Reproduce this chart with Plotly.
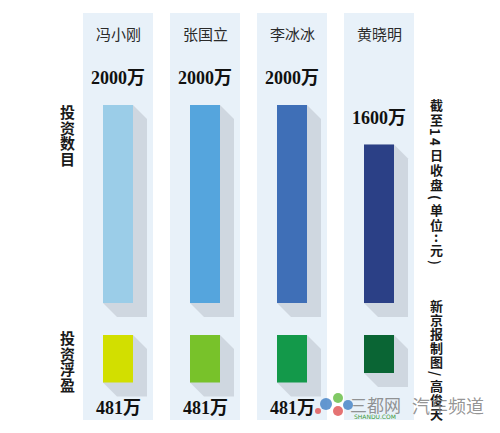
import plotly.graph_objects as go

# ---------------- data ----------------
names = ["冯小刚", "张国立", "李冰冰", "黄晓明"]
invest = [2000, 2000, 2000, 1600]          # 投资数目 (万)
gain = [481, 481, 481, 385]                # 投资浮盈 (万)
invest_labels = ["2000万", "2000万", "2000万", "1600万"]
gain_labels = ["481万", "481万", "481万", ""]
upper_colors = ["#9bcde8", "#55a5dd", "#3f6fb7", "#2b4086"]
lower_colors = ["#d2df00", "#78c22a", "#13994a", "#0a6534"]
left_titles = ["投资数目", "投资浮盈"]
note_text = "截至14日收盘(单位:元)"
credit_text = "新京报制图/高俊天"

# ---------------- geometry (pixels of a 500x433 canvas) ----------------
W, H = 500, 433
X0, XSTEP = 118, 87          # centre of first column, column pitch
YS = 0.099                   # pixels per 万
UP_BASE, LO_BASE = 303, 335  # pixel rows of the two baselines
BAR_W = 30 / XSTEP
BG_HALF = 35 / XSTEP
DX = 14 / XSTEP
DY = 14 / YS
SHADOW = "#cfd7e0"

xs = list(range(len(names)))
fig = go.Figure()


def py(p):
    return (H - p) / H


def path(xy):
    return "M " + " L ".join("%.4f,%.4f" % (a, b) for a, b in xy) + " Z"


shapes = []
for i in xs:
    shapes.append(dict(type="rect", xref="x", yref="paper", x0=i - BG_HALF, x1=i + BG_HALF,
                       y0=py(420), y1=py(13), fillcolor="#e8f1f9", line=dict(width=0), layer="below"))

# shadows (upper), drawn in data coordinates
for i, v in zip(xs, invest):
    c, w = i, BAR_W / 2
    pts = [(c - w, v), (c + w, v), (c + w + DX, v - DY), (c + w + DX, -DY), (c - w + DX, -DY), (c - w, 0)]
    shapes.append(dict(type="path", xref="x", yref="y", path=path(pts), fillcolor=SHADOW,
                       line=dict(width=0), layer="below"))
# shadows (lower)
for i, v in zip(xs, gain):
    c, w = i, BAR_W / 2
    pts = [(c - w, 0), (c + w, 0), (c + w + DX, DY), (c + w + DX, v + DY), (c - w + DX, v + DY), (c - w, v)]
    shapes.append(dict(type="path", xref="x", yref="y2", path=path(pts), fillcolor=SHADOW,
                       line=dict(width=0), layer="below"))

fig.add_trace(go.Bar(x=xs, y=invest, width=BAR_W, marker=dict(color=upper_colors, line=dict(width=0)),
                     showlegend=False, hoverinfo="skip", yaxis="y"))
fig.add_trace(go.Bar(x=xs, y=gain, width=BAR_W, marker=dict(color=lower_colors, line=dict(width=0)),
                     showlegend=False, hoverinfo="skip", yaxis="y2"))

ann = []
serif = "Liberation Serif, Noto Sans CJK SC"
sans = "Noto Sans CJK SC, sans-serif"
C = dict(showarrow=False, xanchor="center", yanchor="middle")
for i, n in zip(xs, names):
    ann.append(dict(x=i, y=py(33), xref="x", yref="paper", text=n,
                    font=dict(family=sans, size=15, color="#2a2a2a"), **C))
for i, v, t in zip(xs, invest, invest_labels):
    ann.append(dict(x=i, y=v, xref="x", yref="y", text="<b>%s</b>" % t,
                    yshift=27, font=dict(family=serif, size=18, color="#111"), **C))
for i, t in zip(xs, gain_labels):
    if t:
        ann.append(dict(x=i, y=py(408), xref="x", yref="paper", text="<b>%s</b>" % t,
                        font=dict(family=serif, size=18, color="#111"), **C))


def vertical(text, xpix, ytop, cjk_adv, other_adv, size, bold=True):
    y = ytop
    for ch in text:
        is_cjk = ord(ch) > 0x2E80
        adv = cjk_adv if is_cjk else other_adv
        ang = 0 if (is_cjk or ch == ":") else 90
        t = "<b>%s</b>" % ch if bold else ch
        ann.append(dict(x=xpix / W, y=py(y + adv / 2), xref="paper", yref="paper", text=t,
                        textangle=ang, font=dict(family=sans, size=size, color="#1a1a1a"), **C))
        y += adv


vertical(left_titles[0], 67, 104, 15.5, 15.5, 15)
vertical(left_titles[1], 67, 330, 15.5, 15.5, 15)
vertical(note_text, 436, 97, 15, 10, 13)
vertical(credit_text, 436, 298, 14, 10, 13)

# watermark
for (cx, cy, r, col) in [(326, 404, 6, "#4a86c8"), (338, 398, 5, "#6bbf4a"), (338, 411, 5, "#e05a5a"),
                         (348, 405, 5, "#4a86c8"), (318, 411, 3, "#e05a5a")]:
    shapes.append(dict(type="circle", xref="paper", yref="paper", x0=(cx - r) / W, x1=(cx + r) / W,
                       y0=py(cy + r), y1=py(cy - r), fillcolor=col, line=dict(width=0), opacity=0.85))
ann.append(dict(x=375 / W, y=py(404), xref="paper", yref="paper", text="三都网",
                font=dict(family=sans, size=17, color="rgba(120,120,120,0.8)"), **C))
ann.append(dict(x=375 / W, y=py(416), xref="paper", yref="paper", text="SHANDU.COM",
                font=dict(family="DejaVu Sans", size=6, color="#3a9a3a"), **C))
ann.append(dict(x=448 / W, y=py(405), xref="paper", yref="paper", text="汽车频道",
                font=dict(family=sans, size=18, color="rgba(130,130,130,0.85)"), **C))

fig.update_layout(
    width=W, height=H, margin=dict(l=0, r=0, t=0, b=0),
    paper_bgcolor="white", plot_bgcolor="white", barmode="overlay",
    xaxis=dict(range=[-X0 / XSTEP, (W - X0) / XSTEP], visible=False, fixedrange=True),
    yaxis=dict(range=[-(H - UP_BASE) / YS, UP_BASE / YS], visible=False, domain=[0, 1], fixedrange=True),
    yaxis2=dict(range=[(H - LO_BASE) / YS, -LO_BASE / YS], visible=False, overlaying="y", domain=[0, 1],
                fixedrange=True),
    shapes=shapes, annotations=ann,
)
fig.write_html("out.html", config={"displayModeBar": False, "staticPlot": True},
               post_script="document.body.style.margin='0';document.body.style.padding='0';"
                           "document.body.style.overflow='hidden';")
